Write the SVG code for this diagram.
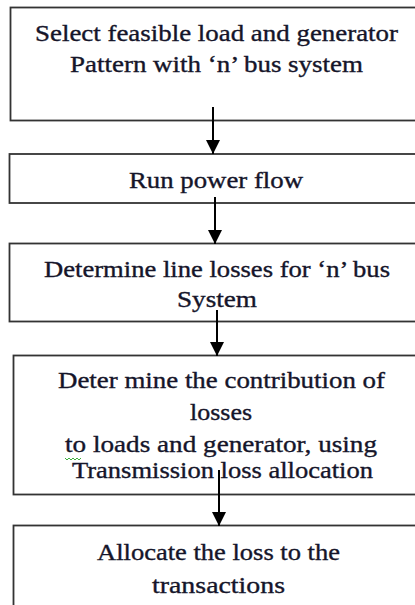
<svg xmlns="http://www.w3.org/2000/svg" width="415" height="605" viewBox="0 0 415 605">
  <style>
    .box { fill: #ffffff; stroke: #333333; stroke-width: 1.8; }
    .lbl { font-family: 'Liberation Serif', 'DejaVu Serif', 'Times New Roman', serif; font-size: 23px; fill: #15152a; stroke: #15152a; stroke-width: 0.35; text-anchor: middle; }
    .edge { stroke: #000000; stroke-width: 2; fill: none; }
    .squiggle { stroke: #3cae3c; stroke-width: 1; fill: none; }
  </style>
  <defs>
    <marker id="arrow" viewBox="0 0 14 14" refX="14" refY="7" markerWidth="14" markerHeight="14" markerUnits="userSpaceOnUse" orient="auto">
      <path d="M0,0 L14,7 L0,14 Z" fill="#000000"/>
    </marker>
  </defs>
  <rect width="415" height="605" fill="#ffffff"/>

  <g id="node-select">
    <rect class="box" x="10.5" y="7.5" width="420" height="113"/>
    <text class="lbl" x="216.5" y="41" textLength="363" lengthAdjust="spacingAndGlyphs">Select feasible load and generator</text>
    <text class="lbl" x="216.5" y="72" textLength="293" lengthAdjust="spacingAndGlyphs">Pattern with ‘n’ bus system</text>
  </g>

  <g id="node-powerflow">
    <rect class="box" x="9.5" y="154" width="420" height="49"/>
    <text class="lbl" x="216" y="188" textLength="174" lengthAdjust="spacingAndGlyphs">Run power flow</text>
  </g>

  <g id="node-linelosses">
    <rect class="box" x="9.5" y="243.5" width="420" height="78"/>
    <text class="lbl" x="217" y="277" textLength="346" lengthAdjust="spacingAndGlyphs">Determine line losses for ‘n’ bus</text>
    <text class="lbl" x="217" y="307" textLength="80" lengthAdjust="spacingAndGlyphs">System</text>
  </g>

  <g id="node-contribution">
    <rect class="box" x="13.5" y="355.5" width="420" height="139"/>
    <text class="lbl" x="221.5" y="388" textLength="327" lengthAdjust="spacingAndGlyphs">Deter mine the contribution of</text>
    <text class="lbl" x="221" y="420" textLength="62" lengthAdjust="spacingAndGlyphs">losses</text>
    <text class="lbl" x="221" y="452" textLength="312" lengthAdjust="spacingAndGlyphs">to loads and generator, using</text>
    <path class="squiggle" d="M65,458 l2,2 l2,-2 l2,2 l2,-2 l2,2 l2,-2 l2,2 l2,-2"/>
    <text class="lbl" x="222.5" y="478" textLength="301" lengthAdjust="spacingAndGlyphs">Transmission loss allocation</text>
  </g>

  <g id="node-allocate">
    <rect class="box" x="13.5" y="525.5" width="420" height="100"/>
    <text class="lbl" x="218.5" y="560" textLength="243" lengthAdjust="spacingAndGlyphs">Allocate the loss to the</text>
    <text class="lbl" x="218.5" y="593" textLength="133" lengthAdjust="spacingAndGlyphs">transactions</text>
  </g>

  <g id="connectors">
    <line class="edge" x1="213" y1="107" x2="213" y2="154" marker-end="url(#arrow)"/>
    <line class="edge" x1="215" y1="197" x2="215" y2="244" marker-end="url(#arrow)"/>
    <line class="edge" x1="217" y1="310" x2="217" y2="356" marker-end="url(#arrow)"/>
    <line class="edge" x1="219" y1="470" x2="219" y2="526" marker-end="url(#arrow)"/>
  </g>
</svg>
